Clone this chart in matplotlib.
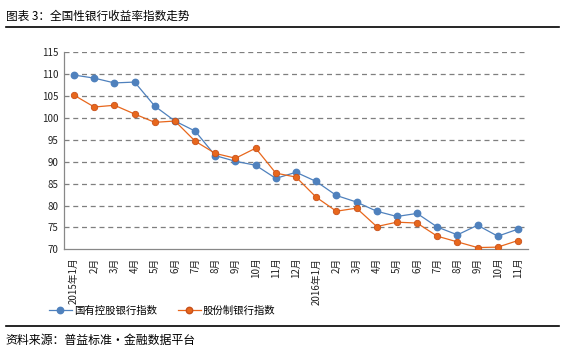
import matplotlib
matplotlib.use("Agg")
import matplotlib.pyplot as plt
from matplotlib.lines import Line2D

plt.rcParams['font.family'] = ['Noto Sans CJK SC', 'DejaVu Sans']

months = ["2015年1月", "2月", "3月", "4月", "5月", "6月", "7月", "8月", "9月", "10月", "11月", "12月",
          "2016年1月", "2月", "3月", "4月", "5月", "6月", "7月", "8月", "9月", "10月", "11月"]
state_owned = [109.8, 109.1, 108.0, 108.2, 102.7, 99.3, 97.0, 91.4, 90.1, 89.2, 86.2, 87.6,
               85.5, 82.3, 80.8, 78.7, 77.5, 78.2, 75.1, 73.3, 75.5, 73.0, 74.6]
joint_stock = [105.2, 102.5, 102.9, 100.9, 99.0, 99.3, 94.7, 91.9, 90.8, 93.1, 87.4, 86.5,
               81.9, 78.7, 79.4, 75.2, 76.2, 76.0, 73.0, 71.7, 70.4, 70.5, 72.0]
yticks = [70, 75, 80, 85, 90, 95, 100, 105, 110, 115]

blue = '#4F81BD'
orange = '#E8671C'

fig = plt.figure(figsize=(5.65, 3.55), dpi=100)
ax = fig.add_axes([0.1133, 0.2977, 0.8212, 0.555])

x = list(range(len(months)))
ax.plot(x, state_owned, color=blue, lw=0.9, marker='o', ms=4.6, mfc=blue, mec=blue, zorder=3)
ax.plot(x, joint_stock, color=orange, lw=0.9, marker='o', ms=4.6, mfc=orange, mec='#C8501A', mew=0.6, zorder=4)

ax.set_xlim(-0.5, len(months) - 0.5)
ax.set_ylim(70, 115)
ax.set_yticks(yticks)
ax.set_yticklabels([str(v) for v in yticks], fontsize=7, color='#222222')
ax.set_xticks(x)
ax.set_xticklabels(months, rotation=90, fontsize=7, color='#222222', va='top', ha='center')
ax.tick_params(axis='both', length=0, pad=4)
ax.tick_params(axis='x', pad=6)

for v in yticks[1:]:
    ax.axhline(v, color='#7F7F7F', lw=0.9, ls=(0, (4, 3)), zorder=1)

for s in ['top', 'right']:
    ax.spines[s].set_visible(False)
ax.spines['left'].set_color('#888888')
ax.spines['bottom'].set_color('#888888')
ax.spines['left'].set_linewidth(0.9)
ax.spines['bottom'].set_linewidth(0.9)

handles = [Line2D([], [], color=blue, lw=0.9, marker='o', ms=4.6, mfc=blue, mec=blue),
           Line2D([], [], color=orange, lw=0.9, marker='o', ms=4.6, mfc=orange, mec='#C8501A')]
fig.legend(handles, ['国有控股银行指数', '股份制银行指数'], loc='center left',
           bbox_to_anchor=(0.07, 0.125), ncol=2, frameon=False, fontsize=7.5,
           handlelength=2.2, handletextpad=0.2, columnspacing=2.0)

fig.text(0.010, 0.955, '图表 3：全国性银行收益率指数走势', fontsize=8.4, ha='left', va='center')
fig.add_artist(Line2D([0.01, 0.99], [0.924, 0.924], transform=fig.transFigure, color='black', lw=1.2))
fig.add_artist(Line2D([0.01, 0.99], [0.082, 0.082], transform=fig.transFigure, color='black', lw=1.2))
fig.text(0.010, 0.04, '资料来源：普益标准·金融数据平台', fontsize=8.6, ha='left', va='center')

fig.savefig('out.png', dpi=100)
